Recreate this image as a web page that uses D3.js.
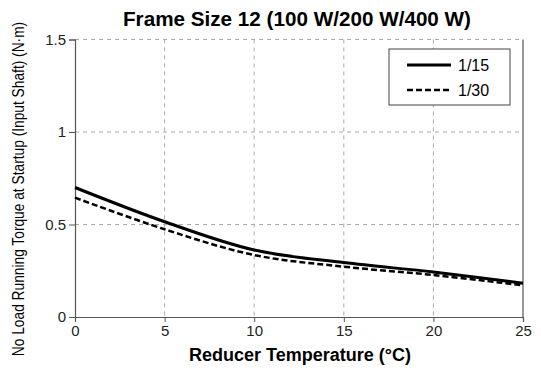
<!DOCTYPE html>
<html>
<head>
<meta charset="utf-8">
<script src="https://cdn.jsdelivr.net/npm/d3@7"></script>
<style>
body { margin: 0; background: #fff; }
text { font-family: "Liberation Sans", Arial, sans-serif; }
</style>
</head>
<body>
<svg width="541" height="373"></svg>
<script>
var temps = [0, 5, 10, 15, 20, 25];
var ratio15 = [0.70, 0.515, 0.362, 0.294, 0.243, 0.183];
var ratio30 = [0.645, 0.474, 0.335, 0.272, 0.227, 0.171];
var xTicks = [0, 5, 10, 15, 20, 25];
var yTicks = [0, 0.5, 1, 1.5];
var seriesNames = ["1/15", "1/30"];

var svg = d3.select("svg");
var margin = {top: 39.5, right: 18, bottom: 56, left: 75};
var width = 523 - margin.left, height = 317 - margin.top;

var x = d3.scaleLinear().domain([0, 25]).range([0, width]);
var y = d3.scaleLinear().domain([0, 1.5]).range([height, 0]);

var g = svg.append("g").attr("transform", "translate(" + margin.left + "," + margin.top + ")");

// grid
g.selectAll(".gx").data(xTicks.slice(1, -1)).enter().append("line")
  .attr("x1", d => x(d)).attr("x2", d => x(d))
  .attr("y1", 0).attr("y2", height)
  .attr("stroke", "#aaa").attr("stroke-dasharray", "4,4");
g.selectAll(".gy").data(yTicks.slice(1)).enter().append("line")
  .attr("x1", 0).attr("x2", width)
  .attr("y1", d => y(d)).attr("y2", d => y(d))
  .attr("stroke", "#aaa").attr("stroke-dasharray", "4,4");

// right border
g.append("line").attr("x1", width).attr("x2", width).attr("y1", 0).attr("y2", height)
  .attr("stroke", "#555").attr("stroke-width", 1.2);

var xAxis = g.append("g").attr("transform", "translate(0," + height + ")")
  .call(d3.axisBottom(x).tickValues(xTicks).tickSize(5).tickPadding(3).tickFormat(d3.format("")));
var yAxis = g.append("g")
  .call(d3.axisLeft(y).tickValues(yTicks).tickSize(6).tickPadding(3).tickFormat(d3.format("")));
[xAxis, yAxis].forEach(function(a) {
  a.select(".domain").attr("stroke", "#555").attr("stroke-width", 1.2);
  a.selectAll(".tick line").attr("stroke", "#555");
  a.selectAll("text").attr("font-size", 15).attr("fill", "#222")
    .style("font-family", "'Liberation Sans', Arial, sans-serif");
});

var line = d3.line().x((d, i) => x(temps[i])).y(d => y(d)).curve(d3.curveCatmullRom.alpha(0.5));
g.append("path").datum(ratio15).attr("d", line)
  .attr("fill", "none").attr("stroke", "#000").attr("stroke-width", 3);
g.append("path").datum(ratio30).attr("d", line)
  .attr("fill", "none").attr("stroke", "#000").attr("stroke-width", 2.5)
  .attr("stroke-dasharray", "6,3");

// legend
var lg = svg.append("g").attr("transform", "translate(389,49)");
lg.append("rect").attr("width", 121).attr("height", 56)
  .attr("fill", "#fff").attr("stroke", "#444").attr("stroke-width", 1);
seriesNames.forEach(function(name, i) {
  var ly = 16 + i * 25;
  lg.append("line").attr("x1", 18).attr("x2", 62).attr("y1", ly).attr("y2", ly)
    .attr("stroke", "#000").attr("stroke-width", i ? 2.5 : 3)
    .attr("stroke-dasharray", i ? "6,3" : null);
  lg.append("text").attr("x", 69).attr("y", ly + 6).attr("font-size", 16).text(name);
});

svg.append("text").attr("x", 297).attr("y", 26).attr("text-anchor", "middle")
  .attr("font-size", 20).attr("font-weight", "bold")
  .attr("textLength", 348).attr("lengthAdjust", "spacingAndGlyphs")
  .text("Frame Size 12 (100 W/200 W/400 W)");
svg.append("text").attr("x", 300).attr("y", 361).attr("text-anchor", "middle")
  .attr("font-size", 18).attr("font-weight", "bold")
  .attr("textLength", 222).attr("lengthAdjust", "spacingAndGlyphs")
  .text("Reducer Temperature (\u00b0C)");
// condensed look via horizontal scale
svg.append("text").attr("transform", "translate(24,189) rotate(-90) scale(0.86,1)")
  .attr("text-anchor", "middle").attr("font-size", 16)
  .text("No Load Running Torque at Startup (Input Shaft) (N\u00b7m)");
</script>
</body>
</html>
